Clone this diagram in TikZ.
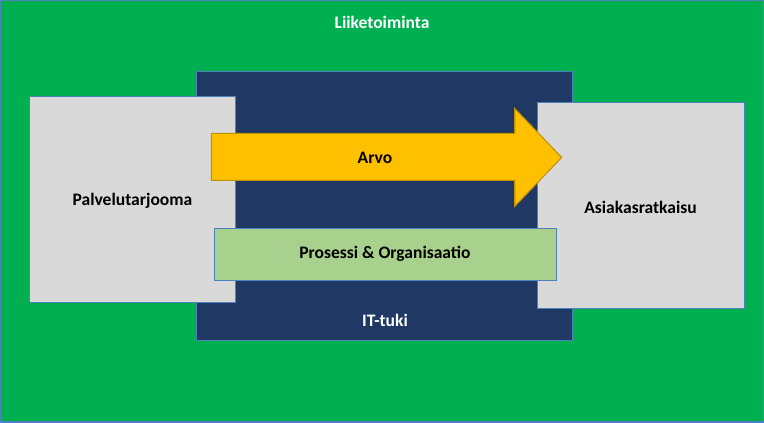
\documentclass[tikz,border=0pt]{standalone}
\usepackage{fontspec}
\setmainfont{Carlito}
\usetikzlibrary{shapes.arrows}
\definecolor{bizgreen}{HTML}{00B050}
\definecolor{navy}{HTML}{1F3864}
\definecolor{boxgray}{HTML}{D9D9D9}
\definecolor{edgeblue}{HTML}{4F81BD}
\definecolor{gold}{HTML}{FFC000}
\definecolor{golddark}{HTML}{BF9000}
\definecolor{procgreen}{HTML}{A9D18E}
\begin{document}
\begin{tikzpicture}[x=0.02cm,y=-0.02cm,
		font=\fontsize{10}{12}\selectfont\bfseries,
		area/.style={draw=edgeblue,line width=0.6pt},
		label text/.style={text=white}]
		% tausta
		\fill[bizgreen,draw=edgeblue,line width=0.8pt] (0,0) rectangle (764,422);
		\node[label text] (biz) at (382,22) {Liiketoiminta};
		% IT
		\draw[area,fill=navy] (196,71) rectangle (573,340);
		\node[label text] (it) at (385,320) {IT-tuki};
		% laatikot
		\draw[area,fill=boxgray] (29,96) rectangle (235,302);
		\node (pt) at (132,200) {Palvelutarjooma};
		\draw[area,fill=boxgray] (538,102) rectangle (745,308);
		\node (ar) at (641,207) {Asiakasratkaisu};
		% arvo
		\draw[fill=gold,draw=golddark,line width=0.6pt]
		(211,133) -- (515,133) -- (515,108) -- (562,157) -- (515,206)
		-- (515,180) -- (211,180) -- cycle;
		\node (arvo) at (375,157) {Arvo};
		% prosessi
		\draw[area,fill=procgreen] (214,228) rectangle (557,280);
		\node (po) at (385,254) {Prosessi \& Organisaatio};
\end{tikzpicture}
\end{document}
